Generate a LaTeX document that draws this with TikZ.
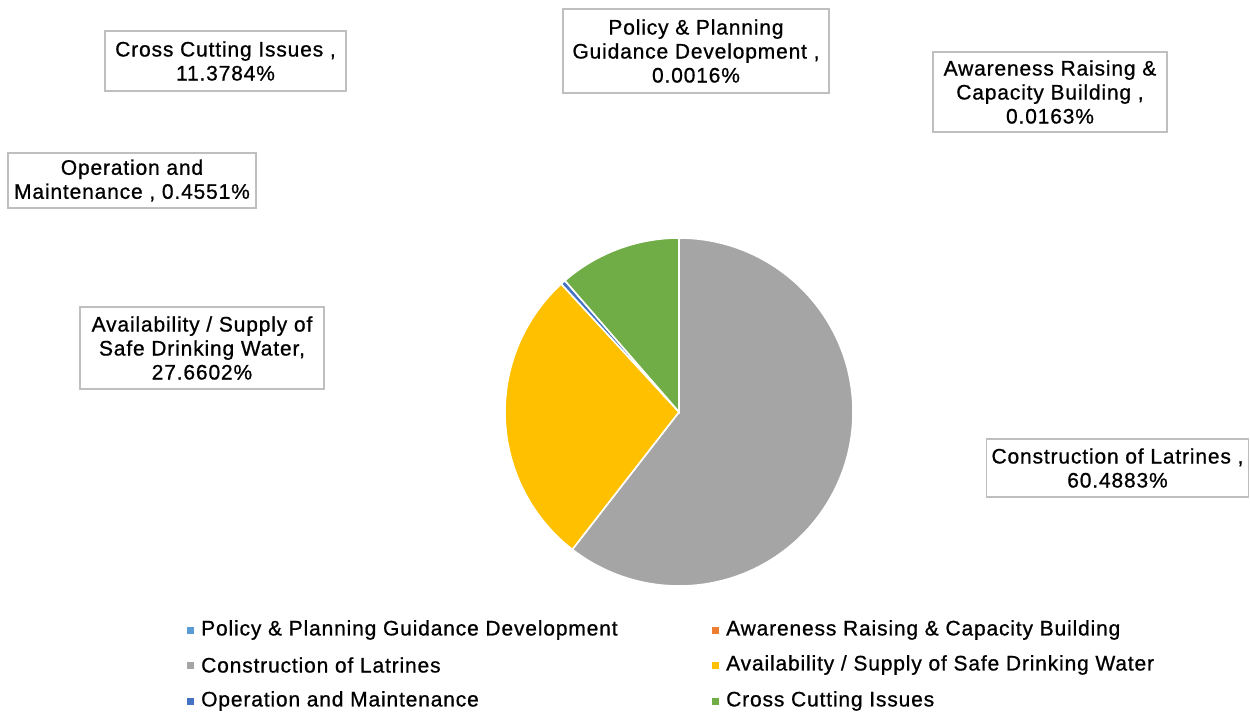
\documentclass[tikz,border=0pt]{standalone}
\usepackage{fontspec}
\setmainfont{Liberation Sans}
\newfontfamily\chartfont[LetterSpace=4,FakeBold=0.8]{Liberation Sans}
\definecolor{cPolicy}{HTML}{5B9BD5}
\definecolor{cAware}{HTML}{ED7D31}
\definecolor{cLatr}{HTML}{A5A5A5}
\definecolor{cWater}{HTML}{FFC000}
\definecolor{cOandM}{HTML}{4472C4}
\definecolor{cCross}{HTML}{70AD47}
\definecolor{boxgray}{HTML}{BFBFBF}
\begin{document}
\begin{tikzpicture}[x=1pt,y=1pt,
    lbl/.style={draw=boxgray,line width=1.6pt,fill=white,align=center,inner sep=0pt,
        font=\chartfont\fontsize{21}{24}\selectfont},
    slice/.style={draw=white,line width=1.6pt},
    key/.style={inner sep=0pt,minimum size=7pt},
    keytext/.style={anchor=west,inner sep=0pt,font=\chartfont\fontsize{21}{24}\selectfont}]
        \useasboundingbox (0,0) rectangle (1250,713);
        \coordinate (C) at (679,301);
        
        % pie, clockwise from the top
        \filldraw[slice,fill=cPolicy] (C) -- ++(90:174) arc (90:89.994:174) -- cycle;
        \filldraw[slice,fill=cAware] (C) -- ++(89.994:174) arc (89.994:89.936:174) -- cycle;
        \filldraw[slice,fill=cLatr] (C) -- ++(89.936:174) arc (89.936:-127.822:174) -- cycle;
        \filldraw[slice,fill=cWater] (C) -- ++(-127.822:174) arc (-127.822:-227.399:174) -- cycle;
        \filldraw[slice,fill=cOandM] (C) -- ++(-227.399:174) arc (-227.399:-229.037:174) -- cycle;
        \filldraw[slice,fill=cCross] (C) -- ++(-229.037:174) arc (-229.037:-270:174) -- cycle;
        
        % data labels
        \node[lbl,minimum width=241,minimum height=60] (lCross) at (225.5,652) {Cross Cutting Issues ,\\11.3784\%};
        \node[lbl,minimum width=266,minimum height=84] (lPolicy) at (696,662) {Policy \& Planning\\Guidance Development ,\\0.0016\%};
        \node[lbl,minimum width=234,minimum height=80] (lAware) at (1050,621) {Awareness Raising \&\\Capacity Building ,\\0.0163\%};
        \node[lbl,minimum width=248,minimum height=55] (lOandM) at (132,532.5) {Operation and\\Maintenance , 0.4551\%};
        \node[lbl,minimum width=244,minimum height=82] (lWater) at (202,365) {Availability / Supply of\\Safe Drinking Water,\\27.6602\%};
        \node[lbl,minimum width=262,minimum height=58] (lLatr) at (1117.5,245) {Construction of Latrines ,\\60.4883\%};
        
        % legend
        \node[key,fill=cPolicy] (kPolicy) at (190.5,83) {};
        \node[keytext] (tPolicy) at (201,83) {Policy \& Planning Guidance Development};
        \node[key,fill=cLatr] (kLatr) at (190.5,48) {};
        \node[keytext] (tLatr) at (201,48) {Construction of Latrines};
        \node[key,fill=cOandM] (kOandM) at (190.5,12) {};
        \node[keytext] (tOandM) at (201,12) {Operation and Maintenance};
        
        \node[key,fill=cAware] (kAware) at (715.5,83) {};
        \node[keytext] (tAware) at (726,83) {Awareness Raising \& Capacity Building};
        \node[key,fill=cWater] (kWater) at (715.5,48) {};
        \node[keytext] (tWater) at (726,48) {Availability / Supply of Safe Drinking Water};
        \node[key,fill=cCross] (kCross) at (715.5,12) {};
        \node[keytext] (tCross) at (726,12) {Cross Cutting Issues};
    \end{tikzpicture}
\end{document}
